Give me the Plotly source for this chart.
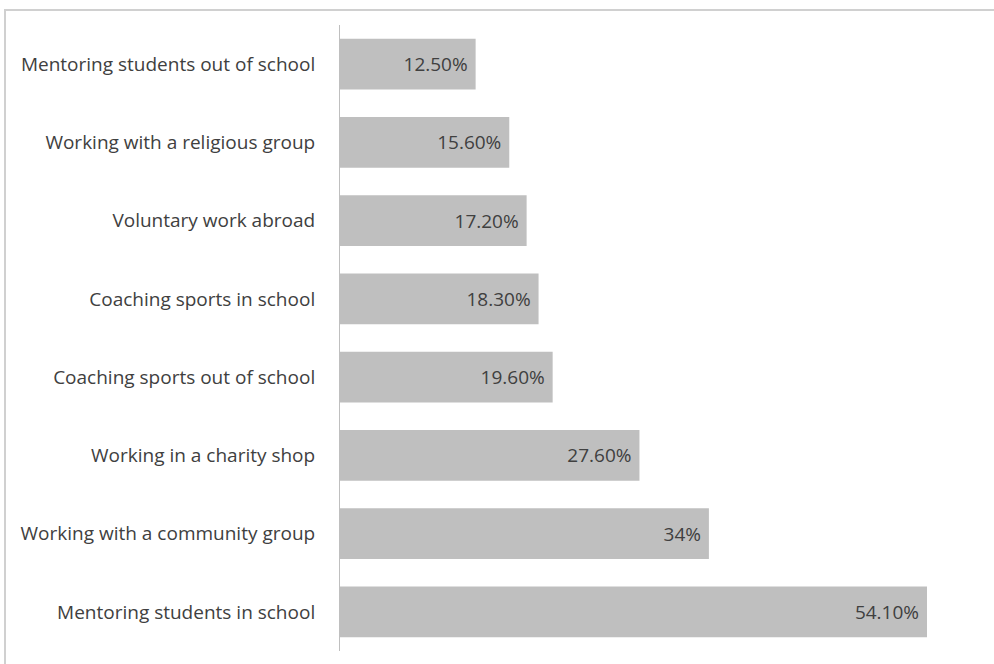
import plotly.graph_objects as go

categories = [
    "Mentoring students out of school",
    "Working with a religious group",
    "Voluntary work abroad",
    "Coaching sports in school",
    "Coaching sports out of school",
    "Working in a charity shop",
    "Working with a community group",
    "Mentoring students in school",
]
values = [12.5, 15.6, 17.2, 18.3, 19.6, 27.6, 34.0, 54.1]
value_labels = ["12.50%", "15.60%", "17.20%", "18.30%", "19.60%", "27.60%", "34%", "54.10%"]

FONT = "Open Sans"
TXT = "#404040"

fig = go.Figure(go.Bar(
    y=categories, x=values, orientation="h",
    text=[t + "\u00a0" for t in value_labels],
    textposition="inside", insidetextanchor="end",
    textfont=dict(family=FONT, size=19, color=TXT),
    marker=dict(color="#bfbfbf", line=dict(width=0)),
    hoverinfo="skip",
))

fig.update_layout(
    width=994, height=664,
    margin=dict(l=340, r=3, t=25, b=13),
    paper_bgcolor="white", plot_bgcolor="white",
    bargap=0.35, showlegend=False,
    xaxis=dict(range=[0, 60], visible=False, showgrid=False, zeroline=False),
    yaxis=dict(autorange="reversed", showline=True, linecolor="#bfbfbf", linewidth=1,
               ticks="", showgrid=False, ticklabelstandoff=20,
               tickfont=dict(family=FONT, size=19, color=TXT)),
    uniformtext=dict(mode=False),
    shapes=[dict(type="rect", xref="paper", yref="paper",
                 x0=(5 - 340) / 651, x1=(1020 - 340) / 651,
                 y0=-0.05, y1=1 + 15 / 626,
                 line=dict(color="#d0d0d0", width=2), layer="below")],
)

fig.write_html("out.html")
